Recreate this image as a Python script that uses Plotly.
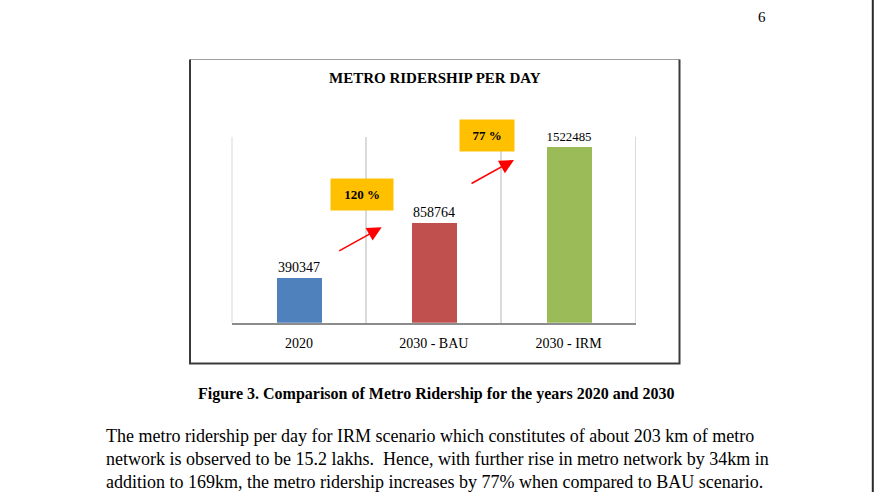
import plotly.graph_objects as go

W, H = 874, 492

categories = ["2020", "2030 - BAU", "2030 - IRM"]
ridership = [390347, 858764, 1522485]
bar_colors = ["#4F81BD", "#C0504D", "#9BBB59"]
growth_labels = ["120 %", "77 %"]

title_text = "METRO RIDERSHIP PER DAY"
caption_text = "Figure 3. Comparison of Metro Ridership for the years 2020 and 2030"
para_lines = [
    "The metro ridership per day for IRM scenario which constitutes of about 203 km of metro",
    "network is observed to be 15.2 lakhs.  Hence, with further rise in metro network by 34km in",
    "addition to 169km, the metro ridership increases by 77% when compared to BAU scenario.",
]
page_number = "6"

SERIF = "Liberation Serif, Times New Roman, serif"


def px(x):
    return x / W


def py(y):
    return 1 - y / H


fig = go.Figure()
fig.add_trace(go.Bar(
    x=categories, y=ridership, width=0.333,
    marker=dict(color=bar_colors, line=dict(width=0)),
    text=[str(v) for v in ridership], textposition="outside",
    textfont=dict(family=SERIF, size=14, color="#000"),
    cliponaxis=False, showlegend=False,
))

GRID = "#dadada"
fig.update_layout(
    width=W, height=H, margin=dict(l=0, r=0, t=0, b=0),
    paper_bgcolor="white", plot_bgcolor="white",
    bargap=0,
    xaxis=dict(domain=[px(231.5), px(636)], type="category", range=[-0.5, 2.5],
               tickson="boundaries", showgrid=True, gridcolor=GRID, gridwidth=2,
               showline=True, linecolor="#8c8c8c", linewidth=2, ticks="",
               tickfont=dict(family=SERIF, size=14, color="#000"), ticklabelstandoff=6,
               zeroline=False),
    yaxis=dict(domain=[py(322.7), py(136.7)], range=[0, 1605000], visible=False),
    showlegend=False,
)

shapes = []
# outer category boundary gridlines
for xb in (-0.5, len(categories) - 0.5):
    shapes.append(dict(type="line", xref="x", yref="y domain", x0=xb, x1=xb, y0=0, y1=1,
                       layer="below", line=dict(color=GRID, width=2)))
# chart box
shapes.append(dict(type="line", xref="paper", yref="paper", x0=px(190), x1=px(679.5), y0=py(59.5), y1=py(59.5),
                   line=dict(color="#a0a0a0", width=1)))
shapes.append(dict(type="path", xref="paper", yref="paper",
                   path=f"M {px(190)} {py(59.5)} L {px(190)} {py(363.5)} L {px(679.5)} {py(363.5)} L {px(679.5)} {py(59.5)}",
                   line=dict(color="#3a3a3a", width=2)))
# page edge
shapes.append(dict(type="line", xref="paper", yref="paper", x0=px(872.8), x1=px(872.8), y0=0, y1=1,
                   line=dict(color="#2a2a2a", width=2)))
fig.update_layout(shapes=shapes)


def txt(text, x, y, size, xanchor="center", **kw):
    return dict(text=text, x=px(x), y=py(y), xref="paper", yref="paper",
                xanchor=xanchor, yanchor="middle", showarrow=False,
                font=dict(family=SERIF, size=size, color="#000"), **kw)


ann = []
ann.append(txt(f"<b>{title_text}</b>", 435, 78, 15))
# growth boxes
ann.append(txt(f"<b>{growth_labels[0]}</b>", 362.3, 194.5, 13, width=60, height=29, bgcolor="#FFC000"))
ann.append(txt(f"<b>{growth_labels[1]}</b>", 487, 135, 13, width=52, height=29, bgcolor="#FFC000"))
# arrows
for (hx, hy, tx, ty) in [(381.7, 227.3, 337.7, 251.7), (514, 160, 470, 184.3)]:
    ann.append(dict(text="", x=px(hx), y=py(hy), xref="paper", yref="paper",
                    showarrow=True, ax=tx - hx, ay=ty - hy, axref="pixel", ayref="pixel",
                    arrowhead=2, arrowsize=1.8, arrowwidth=1.6, arrowcolor="#FF0000"))
# caption
ann.append(txt(f"<b>{caption_text}</b>", 436, 394, 16))
for i, line in enumerate(para_lines):
    ann.append(txt(line, 104, 436 + 23 * i, 18, xanchor="left"))
ann.append(txt(page_number, 762, 17, 15))
fig.update_layout(annotations=ann)

fig.write_html("out.html")
